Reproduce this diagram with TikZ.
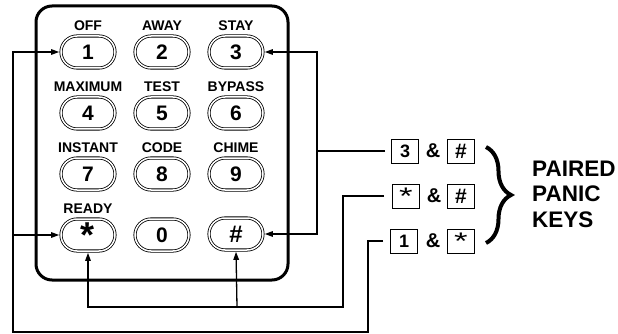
\documentclass[tikz,border=0pt]{standalone}
\usepackage{fontspec}
\setmainfont{Liberation Sans}
\usetikzlibrary{shapes.misc,arrows.meta,decorations.pathreplacing}
\newcommand{\boxstar}{{\fontsize{24}{24}\mdseries\raisebox{-0.36em}{\scalebox{1.45}[1]{*}}}}
\newcommand{\bighash}{{\fontsize{21}{21}\selectfont\#}}
\begin{document}
\begin{tikzpicture}[x=1pt,y=-1pt,
  key/.style={rounded rectangle, draw, double, double distance=1.5pt, line width=0.8pt,
    minimum width=54pt, minimum height=32pt, inner sep=0pt,
    font=\bfseries\fontsize{21}{21}\selectfont},
  klabel/.style={font=\bfseries\fontsize{14}{14}\selectfont, inner sep=0pt},
  pbox/.style={draw, line width=0.8pt, minimum width=27pt, minimum height=24pt, inner sep=0pt,
    font=\bfseries\fontsize{18}{18}\selectfont},
  amp/.style={font=\bfseries\fontsize{20}{20}\selectfont, inner sep=0pt},
  conn/.style={line width=1.3pt},
  arr/.style={conn, -{Triangle[length=8pt,width=5.5pt]}, shorten >=1.4pt},
]
\useasboundingbox (0,0) rectangle (618,334);

% keypad body
\node[draw, line width=3pt, rounded corners=16pt, minimum width=252pt, minimum height=274pt]
  (pad) at (162,143) {};

% keys
\node[key] (k1) at (88,52) {1};
\node[key] (k2) at (162,52) {2};
\node[key] (k3) at (236,52) {3};
\node[key] (k4) at (88,113) {4};
\node[key] (k5) at (162,113) {5};
\node[key] (k6) at (236,113) {6};
\node[key] (k7) at (88,174) {7};
\node[key] (k8) at (162,174) {8};
\node[key] (k9) at (236,174) {9};
\node[key] (ks) at (88,235) {\fontsize{36}{36}\selectfont\raisebox{-0.33em}{*}};
\node[key] (k0) at (162,235) {0};
\node[key] (kh) at (236,234) {\fontsize{24}{24}\selectfont\#};

% key labels
\node[klabel] (l1) at (88,26) {OFF};
\node[klabel] (l2) at (162,26) {AWAY};
\node[klabel] (l3) at (236,26) {STAY};
\node[klabel] (l4) at (88,87) {MAXIMUM};
\node[klabel] (l5) at (162,87) {TEST};
\node[klabel] (l6) at (236,87) {BYPASS};
\node[klabel] (l7) at (88,148) {INSTANT};
\node[klabel] (l8) at (162,148) {CODE};
\node[klabel] (l9) at (236,148) {CHIME};
\node[klabel] (ls) at (88,209) {READY};

% paired key boxes
\node[pbox] (a1) at (405,151) {3};
\node[amp]  (m1) at (433,151) {\&};
\node[pbox] (b1) at (461,151) {\bighash};
\node[pbox] (a2) at (406,196) {\boxstar};
\node[amp]  (m2) at (434,196) {\&};
\node[pbox] (b2) at (461,196) {\bighash};
\node[pbox] (a3) at (404,241) {1};
\node[amp]  (m3) at (433,241) {\&};
\node[pbox] (b3) at (461,241) {\boxstar};

\coordinate (e1) at ([xshift=-6pt]a1.west);
\coordinate (e2) at ([xshift=-8pt]a2.west);
\coordinate (e3) at ([xshift=-7pt]a3.west);

% connectors: 3 & #
\draw[arr] (e1) -- (317,151) |- (k3.east);
\draw[arr] (317,151) |- (kh.east);
% connectors: * & #
\draw[arr] (e2) -- (343,196) |- (88,307) -- (ks.south);
\draw[arr] (237,307) -- (kh.south);
% connectors: 1 & *
\draw[arr] (e3) -- (368,241) |- (13,332) |- (k1.west);
\draw[arr] (13,235) -- (ks.west);

% brace and caption
\draw[line width=4pt, decorate, decoration={brace, amplitude=25pt}] (486,147) -- (486,243);
\node[font=\bfseries\fontsize{22.5}{25.5}\selectfont, align=left, anchor=west, inner sep=0pt]
  (cap) at (532,194) {PAIRED\\PANIC\\KEYS};
\end{tikzpicture}
\end{document}
